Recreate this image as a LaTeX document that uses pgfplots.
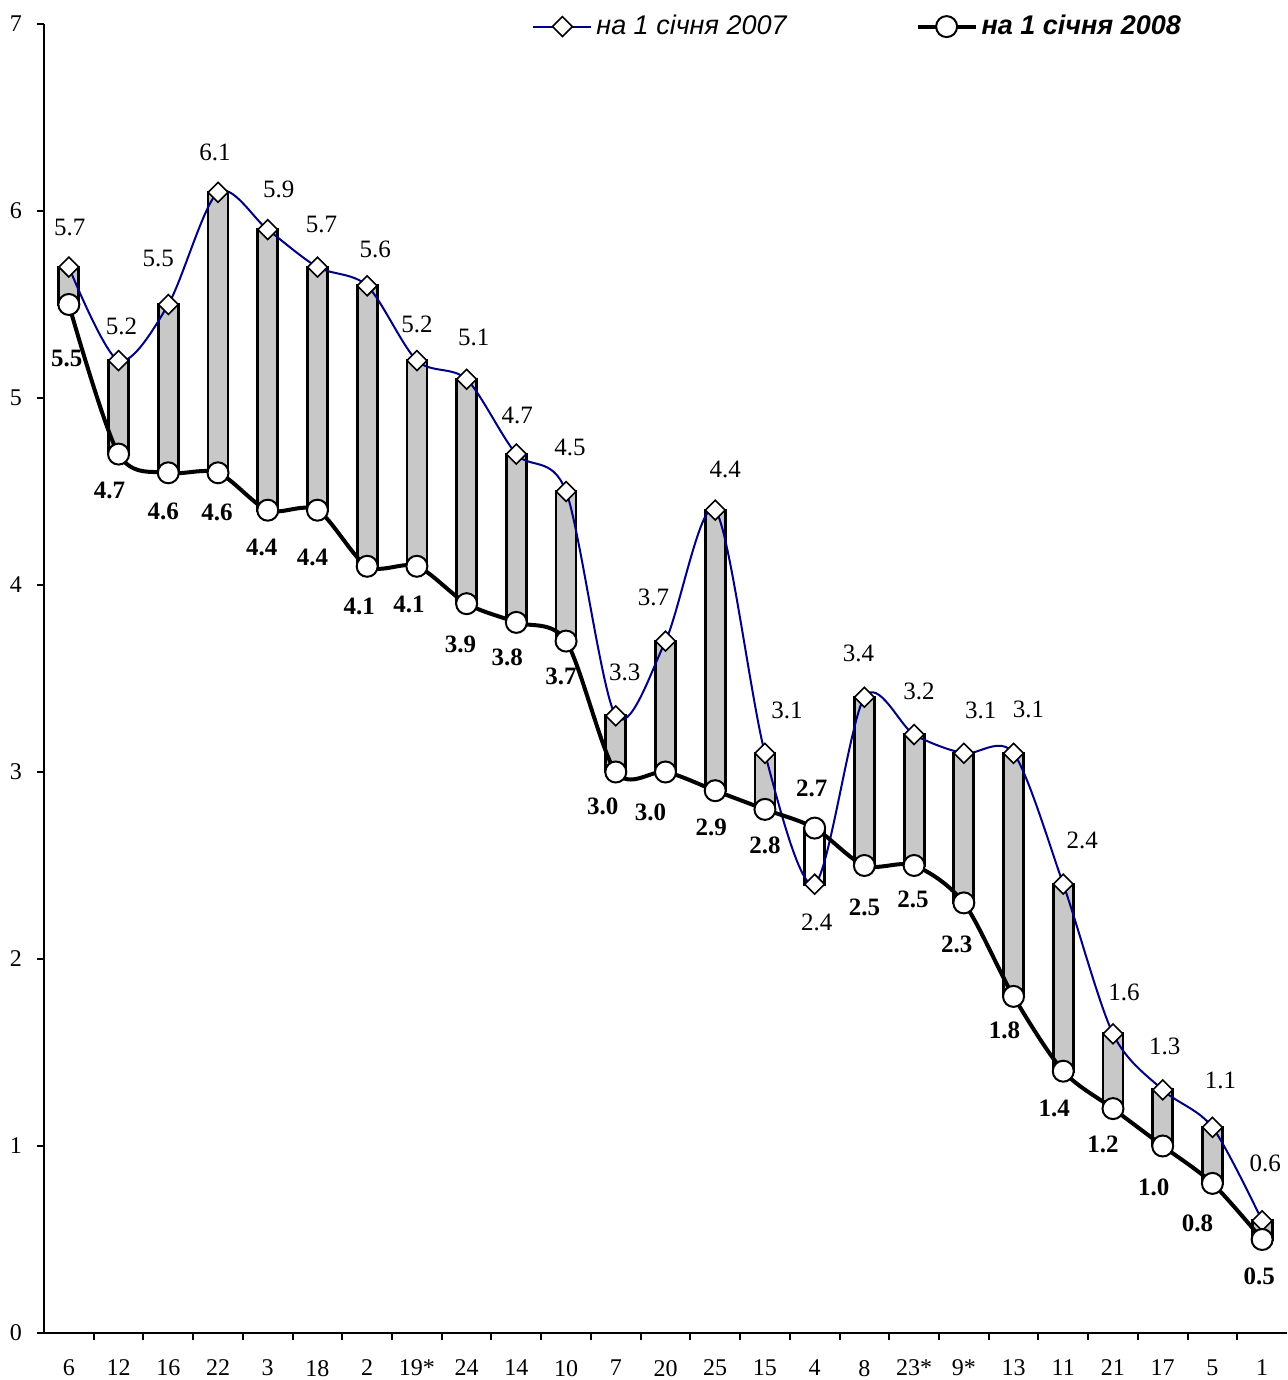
\documentclass[border=0pt]{standalone}
\usepackage{fontspec}
\setmainfont{Liberation Serif}
\newfontfamily\arialfont{Liberation Sans}
\usepackage{pgfplots}
\usepackage{pgfplotstable}
\pgfplotsset{compat=1.18}
\definecolor{navyline}{RGB}{0,0,128}
\definecolor{barfill}{RGB}{200,200,200}

\pgfplotstableread{
x v07 v08 ax ay bx by
0 5.7 5.5 0.5 20 -1 -27
1 5.2 4.7 1.5 17 -4.5 -18
2 5.5 4.6 -5 23 -2.5 -19.5
3 6.1 4.6 -1.5 20 -0.5 -20
4 5.9 4.4 5.5 20 -3 -18.5
5 5.7 4.4 2 21.5 -2.5 -23.5
6 5.6 4.1 4 18 -4 -20
7 5.2 4.1 0 18 -4 -19
8 5.1 3.9 3.5 21 -3 -20.5
9 4.7 3.8 0.5 19.5 -4.5 -17.5
10 4.5 3.7 2 22 -2.5 -17.5
11 3.3 3.0 4.5 21.5 -6.5 -17
12 3.7 3.0 -6 22 -7.5 -20
13 4.4 2.9 5 20.5 -2 -18.5
14 3.1 2.8 11 21.5 0 -18
15 2.4 2.7 1 -19 -1.5 20
16 3.4 2.5 -3 22 0 -21
17 3.2 2.5 2.5 21.5 -0.5 -17
18 3.1 2.3 8.5 21.5 -3.5 -21
19 3.1 1.8 7.5 22 -4.5 -17
20 2.4 1.4 9.5 22 -4.5 -18.5
21 1.6 1.2 5.5 20.5 -5 -18
22 1.3 1.0 1 21.5 -4.5 -20.5
23 1.1 0.8 4 23.5 -7.5 -20
24 0.6 0.5 1.5 28.5 -1.5 -18.5
}\data

\pgfplotsset{
  common/.style={
    scale only axis, width=621.5pt, height=654.5pt,
    at={(22pt,23.5pt)}, anchor=south west,
    xmin=-0.5, xmax=24.5, ymin=0, ymax=7, clip=false,
  },
  /pgf/number format/assume math mode=true,
}

\begin{document}
\begin{tikzpicture}
% up/down bars
\begin{axis}[common, hide axis, ybar stacked, bar width=10pt]
\addplot[draw=none, fill=none] table[x=x, y expr={min(\thisrow{v07},\thisrow{v08})}]{\data};
\addplot[draw=black, line width=1.4pt, fill=barfill] table[x=x, y expr={max(\thisrow{v07}-\thisrow{v08},0)}]{\data};
\addplot[draw=black, line width=1.4pt, fill=white] table[x=x, y expr={max(\thisrow{v08}-\thisrow{v07},0)}]{\data};
\end{axis}
% lines
\begin{axis}[common,
  axis lines=left, axis line style={-, line width=1pt, black},
  ytick={0,...,7},
  xtick={0.5,1.5,...,23.5}, xticklabels={},
  extra x ticks={0,1,...,24},
  extra x tick labels={6,12,16,22,3,18,2,19*,24,14,10,7,20,25,15,4,8,23*,9*,13,11,21,17,5,1},
  extra x tick style={major tick length=0pt},
  tick align=outside, major tick length=3.5pt,
  tick style={line width=1pt, black},
  ticklabel style={font=\fontsize{12}{14}\selectfont},
  xticklabel style={yshift=-10pt},
  yticklabel style={xshift=-4pt},
  legend columns=2,
  legend style={draw=none, fill=none, at={(0.3926,0.998)}, anchor=west, inner sep=0pt,
    font=\fontsize{13.5}{15}\selectfont\arialfont,
    /tikz/every even column/.append style={column sep=62.5pt}},
  legend image code/.code={\draw[mark repeat=2, mark phase=2, #1] plot coordinates {(0pt,0pt) (14.5pt,0pt) (29pt,0pt)};},
]
\addplot[navyline, line width=1pt, smooth,
  mark=square*, mark size=3.5pt,
  mark options={rotate=45, fill=white, draw=black, line width=0.8pt, solid},
  nodes near coords, point meta=explicit,
  visualization depends on={\thisrow{ax} \as \labax},
  visualization depends on={\thisrow{ay} \as \labay},
  nodes near coords style={anchor=center, black, font=\fontsize{12.5}{14}\selectfont,
    xshift=\labax pt, yshift=\labay pt,
    /pgf/number format/.cd, fixed, fixed zerofill, precision=1},
] table[x=x, y=v07, meta=v07]{\data};
\addlegendentry{\itshape на 1 січня 2007}
\addplot[black, line width=2pt, smooth,
  mark=*, mark size=5.25pt,
  mark options={fill=white, draw=black, line width=1pt, solid},
  nodes near coords, point meta=explicit,
  visualization depends on={\thisrow{bx} \as \labbx},
  visualization depends on={\thisrow{by} \as \labby},
  nodes near coords style={anchor=center, black, font=\fontsize{12.5}{14}\selectfont\bfseries,
    xshift=\labbx pt, yshift=\labby pt,
    /pgf/number format/.cd, fixed, fixed zerofill, precision=1},
] table[x=x, y=v08, meta=v08]{\data};
\addlegendentry{\bfseries\itshape на 1 січня 2008}
\end{axis}
\pgfresetboundingbox
\useasboundingbox (0,0) rectangle (643.5pt,690pt);
\end{tikzpicture}
\end{document}
